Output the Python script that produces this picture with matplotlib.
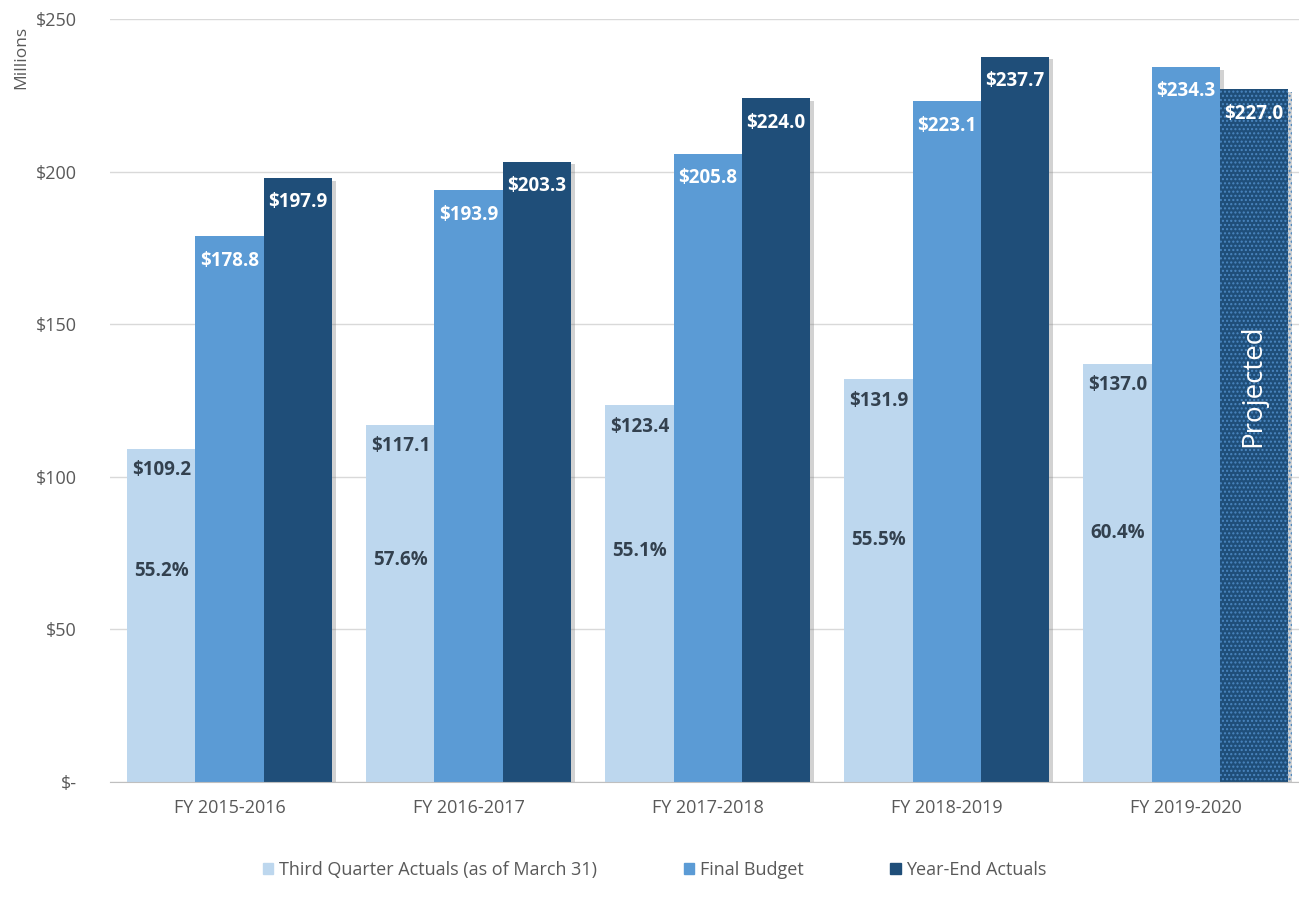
import numpy as np
import matplotlib.pyplot as plt
import matplotlib.patheffects as pe
from matplotlib.patches import Patch

years = ["FY 2015-2016", "FY 2016-2017", "FY 2017-2018", "FY 2018-2019", "FY 2019-2020"]
third_quarter = [109.2, 117.1, 123.4, 131.9, 137.0]
final_budget = [178.8, 193.9, 205.8, 223.1, 234.3]
year_end = [197.9, 203.3, 224.0, 237.7, 227.0]
pct_labels = ["55.2%", "57.6%", "55.1%", "55.5%", "60.4%"]
projected = [False, False, False, False, True]
series_names = ["Third Quarter Actuals (as of March 31)", "Final Budget", "Year-End Actuals"]

c_light = "#BDD7EE"
c_mid = "#5B9BD5"
c_dark = "#1F4E79"
txt_gray = "#595959"
dark_txt = "#33414f"

plt.rcParams['font.family'] = ['Open Sans', 'DejaVu Sans']
plt.rcParams['hatch.linewidth'] = 1.0

fig = plt.figure(figsize=(12.99, 9.09), dpi=100)
ax = fig.add_axes([0.0847, 0.1397, 0.92, 0.8394])

x = np.arange(len(years))
w = 0.285
shadow = [pe.SimplePatchShadow(offset=(3, -2), shadow_rgbFace="#7f7f7f", alpha=0.35), pe.Normal()]

b1 = ax.bar(x - w, third_quarter, w, color=c_light, zorder=3)
b2 = ax.bar(x, final_budget, w, color=c_mid, zorder=3)
b3 = ax.bar(x + w, year_end, w, color=c_dark, zorder=3)
for bars in (b1, b2, b3):
    for r in bars:
        r.set_path_effects(shadow)

for i, r in enumerate(b3):
    if projected[i]:
        r.set_hatch("....")
        r.set_edgecolor("#4a86c0")
        r.set_linewidth(0)
        ax.text(x[i] + w, 130, "Projected", rotation=90, ha="center", va="center",
                color="white", fontsize=20, zorder=5)

lbl_kw = dict(ha="center", va="center", fontsize=13.5, fontweight="bold", zorder=5)
for i in range(len(years)):
    ax.text(x[i] - w, third_quarter[i] - 7, "$%.1f" % third_quarter[i], color=dark_txt, **lbl_kw)
    ax.text(x[i] - w, third_quarter[i] * 0.45 + 20, pct_labels[i], color=dark_txt, **lbl_kw)
    ax.text(x[i], final_budget[i] - 8, "$%.1f" % final_budget[i], color="white", **lbl_kw)
    ax.text(x[i] + w, year_end[i] - 8, "$%.1f" % year_end[i], color="white", **lbl_kw)

ax.set_xlim(-0.5, 4.5)
ax.set_ylim(0, 250)
ax.set_yticks(np.arange(0, 251, 50))
ax.set_yticklabels(["$-", "$50", "$100", "$150", "$200", "$250"])
ax.set_xticks(x)
ax.set_xticklabels(years)
ax.tick_params(axis="both", length=0, colors=txt_gray, labelsize=13)
ax.tick_params(axis="y", pad=24)
ax.tick_params(axis="x", pad=12)
ax.grid(axis="y", color="#D9D9D9", linewidth=1, zorder=0)
for s in ["top", "right", "left"]:
    ax.spines[s].set_visible(False)
ax.spines["bottom"].set_color("#BFBFBF")
ax.spines["bottom"].set_zorder(4)

fig.text(0.016, 0.937, "Millions", rotation=90, ha="center", va="center", color=txt_gray, fontsize=12.5)

handles = [Patch(color=c, label=n) for c, n in zip([c_light, c_mid, c_dark], series_names)]
fig.legend(handles=handles, loc="center", bbox_to_anchor=(0.504, 0.043), ncol=3, frameon=False,
           fontsize=13, handlelength=0.6, handleheight=0.6, handletextpad=0.3, columnspacing=4.8,
           labelcolor=txt_gray)

plt.savefig("out.png", dpi=100)
